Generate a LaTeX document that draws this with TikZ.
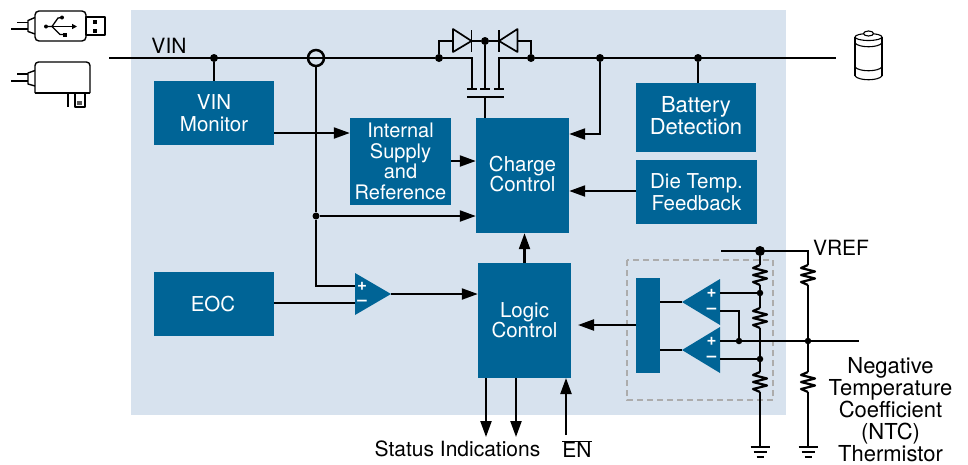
\documentclass[tikz,border=0pt]{standalone}
\usepackage{fontspec}
\setmainfont{TeX Gyre Heros}
\usetikzlibrary{arrows.meta}
\definecolor{panelblue}{HTML}{D7E2EE}
\definecolor{blockblue}{HTML}{006496}
\tikzset{
    wire/.style={line width=2.2pt,black},
    thinwire/.style={line width=1.7pt,black},
    arrowwire/.style={wire,-{Triangle[length=16pt,width=11pt]}},
    dot/.style={circle,fill=black,inner sep=0pt,minimum size=8pt},
    block/.style={
        fill=blockblue,
        text=white,
        inner sep=0pt,
        align=center
    },
    sign/.style={text=white,inner sep=0pt,font=\fontsize{17}{17}\selectfont\bfseries},
    caption/.style={inner sep=0pt,align=center,font=\fontsize{21}{22}\selectfont},
    icon/.style={line width=1.4pt,black,line join=round},
    zigzag/.pic={
        \coordinate (-top) at (0,-10);
        \coordinate (-bot) at (0,10);
        \draw[wire,line join=round] (0,-10) -- (-7,-7) -- (7,-3.5) -- (-7,0) -- (7,3.5) -- (-7,7) -- (0,10);
    },
    earth/.pic={
        \draw[wire] (-9.5,0) -- (9.5,0);
        \draw[wire] (-6.5,5) -- (6.5,5);
        \draw[wire] (-3.5,10) -- (3.5,10);
    }
}
\begin{document}
\begin{tikzpicture}[x=1pt,y=-1pt]
\useasboundingbox (0,0) rectangle (968,464);
\fill[panelblue] (131,10) rectangle (786,415);
\draw[line width=2pt,gray!65,dash pattern=on 6pt off 4pt] (627,260) rectangle (773,400);

\node[block,minimum width=120pt,minimum height=64pt,font=\fontsize{20.5}{22}\selectfont] (vinmon) at (214,113) {VIN\\Monitor};
\node[block,minimum width=101pt,minimum height=87pt,font=\fontsize{20}{20.5}\selectfont] (intsup) at (400.5,161.5) {Internal\\Supply\\and\\Reference};
\node[block,minimum width=93pt,minimum height=115pt,text depth=4pt,font=\fontsize{20.5}{20}\selectfont] (charge) at (522.5,175.5) {Charge\\Control};
\node[block,minimum width=120pt,minimum height=69pt,text depth=4pt,font=\fontsize{22}{22}\selectfont] (batdet) at (696,117.5) {Battery\\Detection};
\node[block,minimum width=121pt,minimum height=64pt,font=\fontsize{20.5}{22}\selectfont] (dietemp) at (696.5,192) {Die Temp.\\Feedback};
\node[block,minimum width=120pt,minimum height=64pt,font=\fontsize{20.5}{22}\selectfont] (eoc) at (214,304) {\hspace*{-2pt}EOC};
\node[block,minimum width=93pt,minimum height=115pt,font=\fontsize{20.5}{20}\selectfont] (logic) at (524.5,320.5) {Logic\\Control};
\node[block,minimum width=24pt,minimum height=95pt] (latch) at (648,325.5) {};

\fill[blockblue] (355,273) -- (391,294) -- (355,315) -- cycle;
\fill[blockblue] (720,279) -- (682,302) -- (720,325) -- cycle;
\fill[blockblue] (720,327) -- (682,350) -- (720,373) -- cycle;
\coordinate (cmpin) at (355,286);
\coordinate (cmpref) at (355,303);
\coordinate (cmpout) at (391,294);
\coordinate (cmpatip) at (682,302);
\coordinate (cmpbtip) at (682,350);
\node[sign] (cmpplus) at (362,286) {+};
\node[sign] (cmpminus) at (362,303) {–};
\node[sign] (cmpaplus) at (711.5,293) {+};
\node[sign] (cmpaminus) at (711.5,311) {–};
\node[sign] (cmpbplus) at (711.5,341) {+};
\node[sign] (cmpbminus) at (711.5,359) {–};

\coordinate (vinstart) at (109,58);
\coordinate (vinend) at (836,58);
\node[dot] (nmon) at (214,58) {};
\node[dot] (ngateL) at (439,58) {};
\node[dot] (ngateR) at (531,58) {};
\node[dot] (nchg) at (600,58) {};
\node[dot] (nbat) at (698,58) {};
\node[dot] (ndiode) at (485,41) {};
\node[dot,minimum size=7pt] (nsense) at (316,216) {};
\node[circle,draw=black,line width=2.5pt,inner sep=0pt,minimum size=16pt] (cross) at (316,58) {};

\draw[wire] (vinstart) -- (ngateL);
\draw[wire] (ngateR) -- (vinend);
\draw[wire] (nmon) -- (nmon |- vinmon.north);
\draw[wire] (nbat) -- (nbat |- batdet.north);
\draw[wire] (cross.south) -- (nsense) -- (316,286) -- (cmpin);
\draw[arrowwire] (nsense) -- (nsense -| charge.west);
\draw[arrowwire] (vinmon.east |- 0,133) -- (intsup.west |- 0,133);
\draw[arrowwire] (intsup.east |- 0,161) -- (charge.west |- 0,161);
\draw[arrowwire] (dietemp.west |- 0,191) -- (charge.east |- 0,191);
\draw[arrowwire] (nchg) -- (600,134) -- (charge.east |- 0,134);
\draw[arrowwire] (logic.north |- 0,263) -- (logic.north |- charge.south);
\draw[wire] (eoc.east |- cmpref) -- (cmpref);
\draw[arrowwire] (cmpout) -- (logic.west |- cmpout);
\draw[arrowwire] (latch.west |- 0,325) -- (578,325);
\draw[arrowwire] (486,378) -- (486,437);
\draw[arrowwire] (516,378) -- (516,437);
\draw[arrowwire] (566,435) -- (566,378);

\coordinate (diodeLa) at (453,41);
\coordinate (diodeLk) at (471.5,41);
\coordinate (diodeRk) at (499,41);
\coordinate (diodeRa) at (517.5,41);
\draw[thinwire,line join=round] (453,29) -- (471.5,41) -- (453,52) -- cycle;
\draw[thinwire] (471.5,30) -- (471.5,52);
\draw[thinwire,line join=round] (517.5,29) -- (499,41) -- (517.5,52) -- cycle;
\draw[thinwire] (499,30) -- (499,52);
\draw[thinwire] (ngateL) -- (439,41) -- (diodeLa);
\draw[thinwire] (diodeLk) -- (ndiode) -- (diodeRk);
\draw[thinwire] (ngateR) -- (531,41) -- (diodeRa);
\draw[thinwire] (ndiode) -- (485,89);
\draw[wire] (ngateL) -- (472,58) -- (472,89);
\draw[wire] (ngateR) -- (499,58) -- (499,89);
\draw[thinwire] (467,89) -- (477,89);
\draw[thinwire] (480,89) -- (490,89);
\draw[thinwire] (494,89) -- (504,89);
\draw[thinwire] (467,97) -- (504,97);
\draw[thinwire] (485,97) -- (485,118);

\coordinate (vrefstart) at (721,251);
\coordinate (vrefcorner) at (808,251);
\coordinate (ntcout) at (859,341);
\node[dot,minimum size=10pt] (nvref) at (760,251) {};
\node[dot,minimum size=6.5pt] (ntapA) at (760,293) {};
\node[dot,minimum size=6.5pt] (ntapB) at (760,359) {};
\node[dot,minimum size=6.5pt] (ncmp) at (739,341) {};
\node[dot,minimum size=6.5pt] (nntc) at (808,341) {};
\pic (ra) at (760,275) {zigzag};
\pic (rb) at (760,318) {zigzag};
\pic (rc) at (760,382) {zigzag};
\pic (rd) at (808,275) {zigzag};
\pic (re) at (808,382) {zigzag};
\pic (gndA) at (760,447) {earth};
\pic (gndB) at (808,447) {earth};
\draw[wire] (vrefstart) -- (vrefcorner) -- (rd-top);
\draw[wire] (nvref) -- (ra-top);
\draw[wire] (ra-bot) -- (ntapA) -- (rb-top);
\draw[wire] (rb-bot) -- (ntapB) -- (rc-top);
\draw[wire] (rc-bot) -- (760,447);
\draw[wire] (rd-bot) -- (nntc) -- (re-top);
\draw[wire] (re-bot) -- (808,447);
\draw[wire] (720,293) -- (ntapA);
\draw[wire] (720,359) -- (ntapB);
\draw[wire] (720,311) -- (739,311) -- (ncmp);
\draw[wire] (720,341) -- (ntcout);
\draw[wire] (latch.east |- cmpatip) -- (cmpatip);
\draw[wire] (latch.east |- cmpbtip) -- (cmpbtip);

\node[caption] (vinlabel) at (169,46) {VIN};
\node[caption] (vreflabel) at (841,248) {VREF};
\node[caption] (statuslabel) at (457.5,449) {Status Indications};
\node[caption] (enlabel) at (577,449) {$\overline{\mbox{EN}}$};
\node[caption,font=\fontsize{22}{22}\selectfont] (ntclabel) at (890.5,410) {Negative\\Temperature\\Coefficient\\(NTC)\\Thermistor};

\draw[icon] (17,22.7) -- (28,22.7);
\draw[icon] (11,29) -- (28,29);
\draw[icon] (35,17.5) -- (28,20.5) -- (28,31.5) -- (35,34);
\draw[icon,rounded corners=4pt] (35,11) rectangle (86,41);
\draw[icon] (86,17) rectangle (105,35);
\fill (93,19.5) rectangle (97,24);
\fill (93,28.5) rectangle (97,33);
\draw[line width=1.3pt,-{Triangle[length=5pt,width=5pt]}] (46,26.5) -- (77,26.5);
\fill (46,26.5) circle (2pt);
\draw[line width=1.3pt] (46,26.5) -- (52,26.5) -- (58,18) -- (62,17.5);
\draw[line width=1.3pt] (52,26.5) -- (60,34.5) -- (65,34.5);
\fill (62,17.5) circle (2pt);
\fill (63,33) rectangle (67,37);

\draw[icon] (17,74) -- (28,74);
\draw[icon] (11,81) -- (28,81);
\draw[icon] (35,70.5) -- (28,73) -- (28,84) -- (35,86);
\draw[icon,rounded corners=3.5pt] (35,93) -- (35,62) -- (90,62) -- (90,93);
\draw[icon] (35,93) -- (90,93);
\draw[line width=2pt] (68,93) -- (68,107);
\draw[icon] (75,93) -- (75,107) -- (85,107) -- (85,93);
\fill[gray!70!black] (77,101) rectangle (82,105);

\draw[icon,line width=1.1pt] (855,37) -- (855,76);
\draw[icon,line width=1.1pt] (882,37) -- (882,76);
\draw[icon,line width=1.1pt] (868.5,37) ellipse (13.5pt and 3.5pt);
\filldraw[icon,line width=1.1pt,fill=white] (868.5,33.5) ellipse (5pt and 2.5pt);
\draw[icon,line width=1.1pt] (855,43) .. controls (859,48) and (878,48) .. (882,43);
\draw[icon,line width=1.1pt] (855,67) .. controls (859,72) and (878,72) .. (882,67);
\draw[icon,line width=1.1pt] (855,76) .. controls (859,81) and (878,81) .. (882,76);
\end{tikzpicture}
\end{document}
